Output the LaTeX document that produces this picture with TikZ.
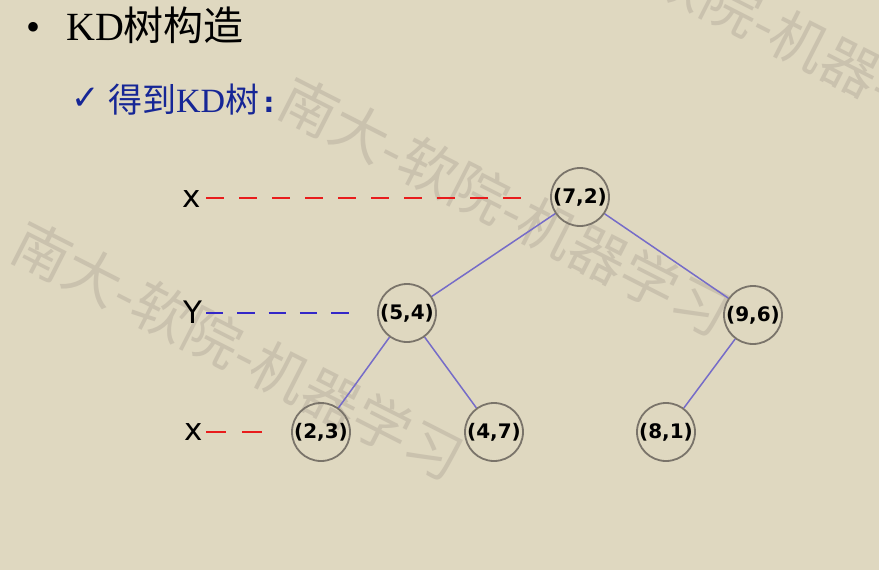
\documentclass[tikz,border=0pt]{standalone}
\usepackage{fontspec}
\setmainfont{Liberation Serif}
\newfontfamily\cjk{Noto Sans CJK SC}
\newfontfamily\dvs{DejaVu Sans}
\definecolor{bg}{RGB}{223,216,192}
\definecolor{wmgray}{RGB}{202,194,174}
\definecolor{circgray}{RGB}{122,116,106}
\definecolor{edgeblue}{RGB}{118,108,200}
\definecolor{dashred}{RGB}{232,28,28}
\definecolor{dashblue}{RGB}{52,40,200}
\definecolor{subblue}{RGB}{22,38,150}
\tikzset{
  wm/.style={text=wmgray, rotate=-27, inner sep=0pt, font=\cjk\fontsize{57}{60}\selectfont},
  kd/.style={circle, draw=circgray, line width=1.8pt, minimum size=58pt, inner sep=0pt,
             font=\dvs\bfseries\fontsize{20}{22}\selectfont},
  edge/.style={draw=edgeblue, line width=1.5pt},
  axis/.style={inner sep=0pt, anchor=base west, font=\dvs\fontsize{31}{33}\selectfont},
  reddash/.style={draw=dashred, line width=2.4pt},
  bluedash/.style={draw=dashblue, line width=2.4pt, dash pattern=on 17.3pt off 14pt},
  txt/.style={inner sep=0pt, anchor=base west}
}
\begin{document}
\begin{tikzpicture}[x=1pt,y=-1pt]
\fill[bg] (0,0) rectangle (879,570);
\useasboundingbox (0,0) rectangle (879,570);
% watermarks
\node[wm] (wm1) at (238,350) {南大-软院-机器学习};
\node[wm] (wm2) at (505,206) {南大-软院-机器学习};
\node[wm] (wm3) at (757,19) {南大-软院-机器学习};
% title
\node[txt, font=\fontsize{40}{44}\selectfont] (bul) at (26,40) {•};
\node[txt, font=\fontsize{40}{44}\selectfont] (title) at (66,40) {KD{\cjk 树构造}};
\node[txt, text=subblue, font=\dvs\fontsize{34}{36}\selectfont] (chk) at (71,109) {✓};
\node[txt, text=subblue, font=\fontsize{34}{36}\selectfont] (sub) at (108,112) {{\cjk 得到}KD{\cjk 树}\hspace{4pt}{\dvs\bfseries\fontsize{28}{30}\selectfont :}};
% axis labels
\node[axis] (lx1) at (182.5,207) {x};
\node[axis] (ly) at (183,323) {Y};
\node[axis] (lx2) at (184.5,440) {x};
\coordinate (d1s) at (206,198);
\coordinate (d1e) at (523,198);
\coordinate (d2s) at (206,313);
\coordinate (d2e) at (349,313);
\coordinate (d3s) at (206,432);
\coordinate (d3e) at (262,432);
\draw[reddash, dash pattern=on 17.5pt off 15.5pt] (d1s) -- (d1e);
\draw[bluedash] (d2s) -- (d2e);
\draw[reddash, dash pattern=on 20pt off 16pt] (d3s) -- (d3e);
% tree
\node[kd] (n72) at (580,197) {(7,2)};
\node[kd] (n54) at (407,313) {(5,4)};
\node[kd] (n96) at (753,315) {(9,6)};
\node[kd] (n23) at (321,432) {(2,3)};
\node[kd] (n47) at (494,432) {(4,7)};
\node[kd] (n81) at (666,432) {(8,1)};
\draw[edge] (n72) -- (n54);
\draw[edge] (n72) -- (n96);
\draw[edge] (n54) -- (n23);
\draw[edge] (n54) -- (n47);
\draw[edge] (n96) -- (n81);
\end{tikzpicture}
\end{document}
